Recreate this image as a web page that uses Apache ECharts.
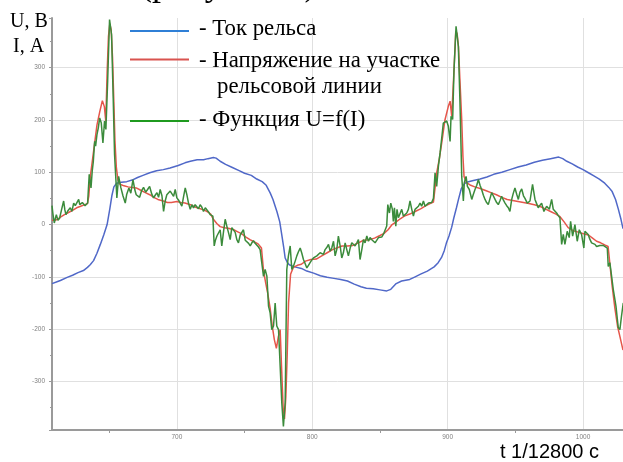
<!DOCTYPE html>
<html>
<head>
<meta charset="utf-8">
<script src="https://cdn.jsdelivr.net/npm/echarts@6/dist/echarts.min.js"></script>
<style>
  html, body { margin: 0; padding: 0; background: #ffffff; }
  #chart { width: 623px; height: 462px; }
</style>
</head>
<body>
<div id="chart"></div>
<script>
// Time axis in samples (1/12800 s), values in A (current) and V (voltage)
const timeRange = [607.8, 1029.5];
const valueRange = [-393, 395];

// Rail current, A
const railCurrent = [
  [607.8,-113],[611,-110],[614,-107],[619,-101],[623,-97],[627,-92],[631,-88],[634,-82],[636,-77],
  [638.5,-69],[641,-55],[643.5,-38],[646,-20],[648.5,0],[650.5,30],[652,55],[653.5,72],[655.5,79],
  [659,81],[663,82],[667,85],[671,90],[675,94],[680,99],[685,103],[690,105],[695,108],[701,113],
  [706,118],[710,121],[715,124],[719.7,124],[723,126],[727,128],[729,127],[732,121],[736,115],
  [741,109],[746,103],[750,98],[755,94],[759,87],[763,82],[766,75],[769,60],[771,48],[774,24],
  [776,5],[777.5,-20],[779,-45],[780,-64],[781.5,-72],[783,-77],[787,-81],[792,-84],[796,-89],
  [801,-93],[806,-98],[811,-101],[816,-103],[821,-105],[826,-108],[831,-114],[836,-119],[840,-122],
  [845,-123],[850,-125],[855,-127],[858,-124],[862,-113],[866,-108],[872,-105],[876,-100],[880,-95],
  [885,-89],[890,-81],[893,-73],[895.5,-63],[897.5,-50],[899,-36],[901,-22],[903,-5],[904.5,12],
  [906.5,32],[908,48],[910,68],[912,77],[914,81],[919,84],[924,87],[929,91],[934,96],[940,100],
  [946,105],[952,110],[958,114],[964,119],[970,123],[976,126],[982,129],[985,126],[988,121],
  [992,116],[996,110],[1000,105],[1004,99],[1008,93],[1012,87],[1016,79],[1019,71],[1021.5,63],
  [1024,48],[1026,30],[1028,10],[1029.5,-8]
];

// Voltage on the rail line section, V
const sectionVoltage = [
  [607.8,8],[610,8],[612,10],[614,14],[617,19],[620,23],[623,27],[626,32],[629,35],[632,38],
  [634,40],[635,55],[636,90],[637.5,120],[639,150],[641,190],[643,215],[645,237],[646.5,225],
  [647.5,198],[648.5,290],[649.5,360],[650.5,384],[651.5,372],[652.5,320],[653.3,250],[654.3,160],
  [655.3,110],[656.5,85],[658,77],[661,74],[664,72],[667,71],[670,70],[673,66],[676,62],[680,57],
  [683,52],[686,48],[690,45],[693,42],[696,42],[700,44],[703,42],[706,41],[710,38],[713,34],
  [716,31],[720,28],[723,24],[725,20],[727,10],[729.5,2],[732,-4],[735,-6],[738,-7],[742,-10],
  [745,-14],[748,-18],[751,-24],[754,-29],[757,-33],[760,-37],[762.5,-45],[764,-88],[765.5,-110],
  [767,-130],[769,-162],[770.5,-195],[772,-220],[773.5,-237],[775,-214],[776.3,-201],[777.3,-270],
  [778.5,-350],[779.5,-372],[780.5,-330],[781.5,-250],[782.5,-150],[784,-95],[786,-82],[789,-78],
  [792,-76],[795,-70],[799,-67],[803,-66],[807,-60],[811,-54],[815,-48],[819,-44],[822,-41],
  [826,-41],[830,-40],[834,-35],[838,-30],[842,-29],[846,-26],[850,-21],[853,-17],[856,-10],
  [859,0],[862,5],[865,11],[868,16],[872,20],[876,25],[880,30],[884,36],[887,40],[889.5,43],
  [890.7,70],[892,100],[894,128],[896,163],[898,200],[900.5,226],[901.8,236],[903,207],[904.7,296],
  [906,370],[907,365],[908,340],[909,280],[910.4,200],[911.3,130],[912.1,92],[914,80],[917,75],
  [920,72],[924,69],[928,65],[932,61],[936,57],[940,52],[944,48],[948,46],[952,44],[956,42],
  [960,40],[964,38],[968,35],[972,30],[976,25],[980,20],[983,15],[986,5],[989,-6],[993,-12],
  [997,-15],[1001,-18],[1004,-20],[1007,-26],[1010,-32],[1013,-35],[1016,-39],[1018.5,-42],
  [1020,-80],[1021.5,-118],[1023.5,-160],[1025.5,-195],[1027.2,-214],[1029.5,-240]
];

// Computed function U = f(I), V
const functionU = [
  [607.8,36],[608.5,20],[609.5,3],[611,19],[612.2,8],[613.4,12],[615,30],[616.4,45],[617.3,28],
  [618.1,19],[619.7,27],[621.3,32],[622.5,25],[623.8,41],[625,36],[625.7,35],[627.5,48],[628.3,38],
  [629.2,35],[630.2,42],[631.2,45],[632.2,36],[633.1,37],[634.1,41],[635.3,96],[636.6,70],
  [637.5,102],[638.3,120],[639.3,159],[640,150],[641,172],[642,185],[643,204],[644.2,194],
  [645.4,156],[646.6,198],[647.6,182],[648.9,274],[650.3,392],[651.8,363],[653,242],[654,134],
  [655.7,51],[657,92],[658.7,70],[660.2,55],[661.9,41],[663,58],[664.6,70],[666,60],[667.6,86],
  [669,66],[670,57],[671.3,60],[672.5,52],[674,65],[675.4,71],[677,62],[678.4,67],[679.9,73],
  [681.5,58],[682.8,51],[684,56],[685.3,61],[686.5,52],[687.7,67],[689,55],[690.2,25],[691.4,45],
  [692.6,57],[695.1,64],[696.3,67],[697.6,54],[698.8,67],[700,51],[701.2,47],[702.5,41],
  [703.7,35],[705,54],[706.2,70],[707.4,57],[708.6,41],[709.9,29],[711.1,38],[712.3,32],
  [713.5,38],[714.8,35],[716,30],[717.2,38],[718.5,33],[719.7,25],[721,32],[722.2,29],[723.4,24],
  [724.6,19],[726.6,16],[727.6,-41],[728.5,-30],[729.6,-22],[730.8,-25],[732,-10],[733.2,-41],
  [734.5,-13],[735.7,10],[736.9,-3],[738.2,-16],[739.4,-29],[740.6,-6],[741.9,-3],[743.1,-15],
  [744.3,-29],[745.5,-35],[746.8,-20],[748,-19],[749.2,-10],[750.5,-30],[751.7,-29],[753,-36],
  [754.2,-41],[755.4,-35],[756.6,-31],[757.8,-36],[759.1,-38],[760.3,-43],[761.5,-48],[762.8,-45],
  [764,-99],[765.2,-86],[766.5,-99],[767.7,-156],[768.9,-169],[770.1,-201],[771.4,-194],
  [772.6,-150],[773.8,-194],[775.1,-201],[776.3,-201],[777.5,-341],[778.7,-386],[780,-341],
  [781.2,-86],[782.4,-60],[783.7,-41],[784.9,-86],[786.1,-80],[787.4,-70],[788.6,-60],[789.8,-52],
  [791.1,-45],[792.3,-55],[793.5,-67],[794.8,-75],[796,-83],[797.2,-78],[798.4,-73],[799.6,-68],
  [800.9,-64],[803.4,-60],[805.8,-54],[808.3,-57],[809.5,-48],[810.7,-44],[812,-38],[813.2,-51],
  [814.4,-45],[815.7,-32],[816.9,-60],[818.1,-48],[819.3,-22],[820.6,-41],[821.8,-64],[823,-54],
  [824.3,-35],[825.5,-48],[826.7,-60],[828,-45],[829.2,-35],[830.4,-38],[831.6,-41],[832.9,-35],
  [834.1,-29],[835.3,-67],[836.6,-48],[837.8,-29],[839,-35],[840.3,-22],[841.5,-32],[842.7,-25],
  [844,-29],[845.2,-32],[846.4,-35],[847.6,-38],[848.9,-25],[850.1,-22],[851.3,-24],[852.5,-19],
  [853.8,-16],[855,-3],[855.8,38],[857,22],[858,41],[859.2,29],[859.9,6],[860.7,32],[861.7,-3],
  [862.6,29],[863.6,13],[864.8,10],[866.1,29],[867.3,16],[868.5,13],[869.8,22],[871,29],
  [872.2,45],[873.5,29],[874.7,16],[875.9,29],[877.2,30],[878.4,35],[879.6,41],[880.8,35],
  [882.1,45],[883.3,35],[884.5,38],[885.8,41],[887,38],[888.2,42],[889.5,50],[890.7,99],
  [891.9,73],[893.2,112],[894.4,137],[895.6,165],[896.8,194],[898,192],[899.3,198],[900.5,188],
  [901.8,159],[902.5,207],[903.7,201],[904.7,296],[906.2,379],[907.9,341],[909.1,233],[910.4,92],
  [911.6,45],[912.3,80],[913.6,92],[914.6,73],[916,67],[917.8,48],[919,58],[920.2,67],[921.5,75],
  [922.7,86],[923.9,75],[925.1,67],[926.4,56],[927.6,48],[928.8,42],[930,38],[931.3,50],
  [932.5,61],[933.7,55],[935,48],[936.2,42],[937.4,38],[938.7,46],[939.9,54],[941.1,47],
  [942.4,41],[943.6,36],[944.8,32],[946,25],[947.3,48],[948.5,60],[949.7,70],[951,58],[952.2,48],
  [953.4,62],[954.7,68],[956,55],[957.1,50],[958.8,41],[960.8,45],[962.7,77],[964.5,48],
  [965.7,40],[966.9,32],[968.2,37],[969.4,41],[971.1,25],[973.1,35],[975.1,29],[976.8,48],
  [978,29],[979.3,26],[980.5,22],[981.7,17],[982.9,13],[984.2,-38],[985.4,-19],[986.6,-38],
  [988.3,-13],[989.8,-25],[990.8,6],[992.3,-22],[994,0],[995.7,-32],[997.2,-10],[998.9,-19],
  [1000.6,-45],[1001.4,-13],[1002.6,-16],[1003.8,-19],[1005,-28],[1006.3,-35],[1007.5,-36],
  [1008.8,-38],[1010,-42],[1011.2,-45],[1012.4,-40],[1013.7,-38],[1014.9,-40],[1016.1,-41],
  [1017.9,-45],[1018.6,-80],[1019.8,-73],[1021.1,-99],[1022.3,-124],[1023.3,-140],[1024.3,-156],
  [1025.2,-178],[1026,-197],[1027.2,-201],[1028.4,-175],[1029.7,-150]
];

// Legend entries: text lines and swatch colours
const legendItems = [
  { color: '#2f7fd6', lines: ['- Ток рельса'] },
  { color: '#d9534f', lines: ['- Напряжение на участке', 'рельсовой линии'] },
  { color: '#1f9a1f', lines: ['- Функция U=f(I)'] }
];

const seriesColors = { current: '#5068c8', voltage: '#e5564b', func: '#3b8b3b' };

const chart = echarts.init(document.getElementById('chart'), null, { renderer: 'canvas' });

const serif = '"Liberation Serif", "DejaVu Serif", serif';
const sans = '"Liberation Sans", Arial, sans-serif';

const gridLeft = 52, gridTop = 18, gridBottom = 32;
const overlayZ = 100;

const graphics = [
  // caption line cut by the top edge
  { type: 'text', z: overlayZ, left: 140, top: -32, style: { text: '(рисунок 1)', font: '36px ' + serif, fill: '#000' } },
  { type: 'text', z: overlayZ, x: 10, y: 22, style: { text: 'U, B', font: '20px ' + serif, fill: '#000', verticalAlign: 'middle' } },
  { type: 'text', z: overlayZ, x: 13, y: 47, style: { text: 'I, A', font: '20px ' + serif, fill: '#000', verticalAlign: 'middle' } },
  { type: 'text', z: overlayZ, x: 500, y: 452.5, style: { text: 't 1/12800 c', font: '20px ' + sans, fill: '#000', verticalAlign: 'middle' } }
];

const swatchY = [31, 59.5, 121];
const textY = [[28.7], [61, 86.7], [120.4]];
legendItems.forEach((item, i) => {
  graphics.push({
    type: 'line',
    z: overlayZ,
    shape: { x1: 130, y1: swatchY[i], x2: 189, y2: swatchY[i] },
    style: { stroke: item.color, lineWidth: 2 }
  });
  item.lines.forEach((t, j) => {
    graphics.push({
      type: 'text',
      z: overlayZ,
      x: j === 0 ? 199 : 217,
      y: textY[i][j],
      style: { text: t, font: '22.8px ' + serif, fill: '#000', verticalAlign: 'middle' }
    });
  });
});

const axisLabelStyle = { color: '#808080', fontSize: 6.5, fontFamily: sans, formatter: v => String(v) };

chart.setOption({
  animation: false,
  backgroundColor: '#ffffff',
  grid: { left: gridLeft, right: 0, top: gridTop, bottom: gridBottom, containLabel: false },
  xAxis: {
    type: 'value',
    min: timeRange[0],
    max: timeRange[1],
    splitNumber: 5,
    axisLine: { show: true, onZero: false, lineStyle: { color: '#9a9a9a', width: 2 } },
    axisTick: { show: false },
    minorTick: { show: true, splitNumber: 2, length: 3, lineStyle: { color: '#9a9a9a' } },
    axisLabel: Object.assign({ margin: 4, showMinLabel: false, showMaxLabel: false }, axisLabelStyle),
    splitLine: { show: true, showMinLine: false, showMaxLine: false, lineStyle: { color: '#e0e0e0', width: 1 } }
  },
  yAxis: {
    type: 'value',
    min: valueRange[0],
    max: valueRange[1],
    splitNumber: 8,
    axisLine: { show: true, onZero: false, lineStyle: { color: '#9a9a9a', width: 2 } },
    axisTick: { show: true, length: 3, lineStyle: { color: '#9a9a9a' } },
    minorTick: { show: true, splitNumber: 2, length: 2, lineStyle: { color: '#9a9a9a' } },
    axisLabel: Object.assign({ margin: 7, showMinLabel: false, showMaxLabel: false }, axisLabelStyle),
    splitLine: { show: true, showMinLine: false, showMaxLine: false, lineStyle: { color: '#e0e0e0', width: 1 } }
  },
  series: [
    { type: 'line', data: railCurrent, showSymbol: false, symbol: 'none', lineStyle: { color: seriesColors.current, width: 1.5 }, z: 2 },
    { type: 'line', data: sectionVoltage, showSymbol: false, symbol: 'none', lineStyle: { color: seriesColors.voltage, width: 1.5 }, z: 3 },
    { type: 'line', data: functionU, showSymbol: false, symbol: 'none', lineStyle: { color: seriesColors.func, width: 1.5 }, z: 4 }
  ],
  graphic: graphics
});
</script>
</body>
</html>
